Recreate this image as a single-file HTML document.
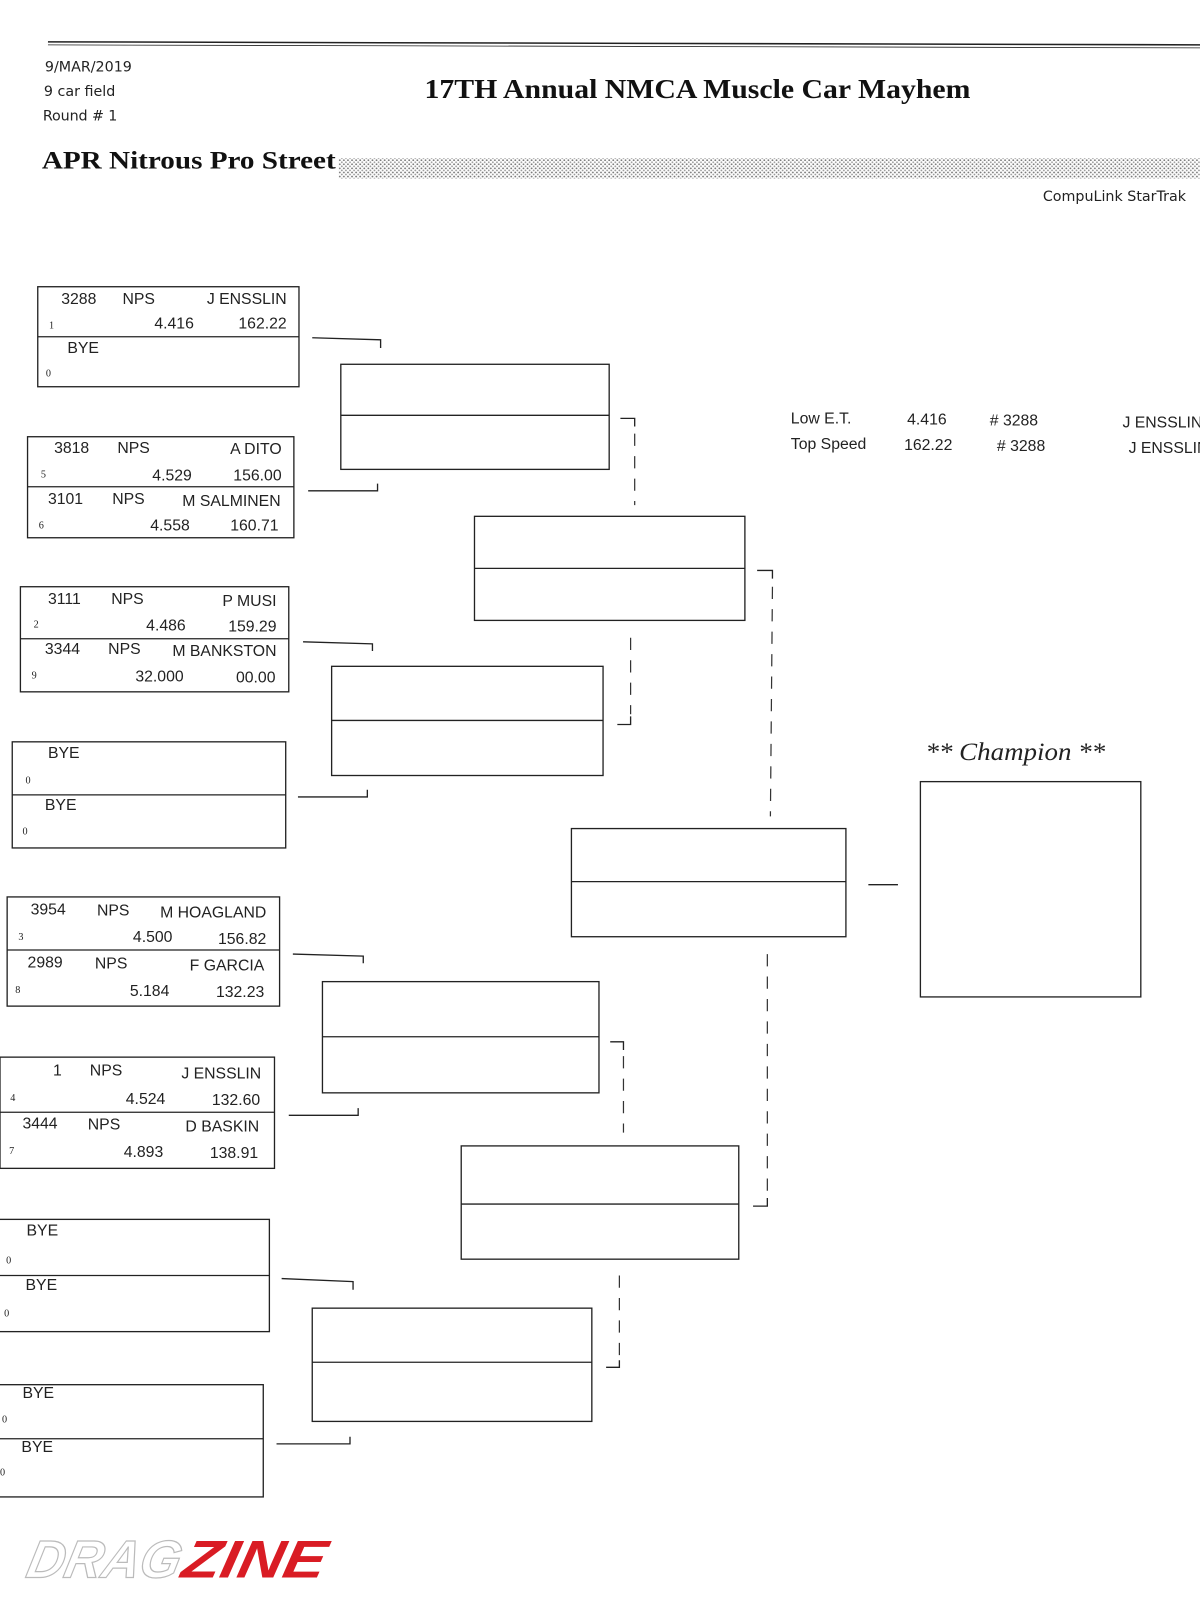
<!DOCTYPE html>
<html><head><meta charset="utf-8"><style>
html,body{margin:0;padding:0;background:#fff;}
svg{display:block;}
.m{font-family:"Liberation Sans",sans-serif;font-size:15.5px;fill:#222;}
.s{font-family:"Liberation Serif",serif;font-size:10px;fill:#222;}
.h{font-family:"DejaVu Sans",sans-serif;font-size:14px;fill:#222;}
</style></head><body>
<svg width="1200" height="1600" viewBox="0 0 1200 1600" xmlns="http://www.w3.org/2000/svg">
<defs><pattern id="dots" width="4" height="4" patternUnits="userSpaceOnUse"><rect width="4" height="4" fill="#fff"/><circle cx="1" cy="1" r="0.9" fill="#777"/><circle cx="3" cy="3" r="0.9" fill="#999"/></pattern></defs>
<g transform="scale(1.0204)">
<g stroke="#222" fill="none" stroke-width="1.2">
<line x1="47" y1="41" x2="1200" y2="44" stroke-width="1.5"/>
<line x1="47" y1="44" x2="1200" y2="47" stroke-width="0.8"/>
</g>
<text x="44" y="70" class="h">9/MAR/2019</text>
<text x="43" y="94" class="h" textLength="70">9 car field</text>
<text x="42" y="118" class="h" textLength="73">Round # 1</text>
<text x="416" y="96" style="font-family:'Liberation Serif',serif;font-weight:bold;font-size:27px;fill:#111" textLength="535" lengthAdjust="spacingAndGlyphs">17TH Annual NMCA Muscle Car Mayhem</text>
<text x="41" y="165" style="font-family:'Liberation Serif',serif;font-weight:bold;font-size:25px;fill:#111" textLength="288" lengthAdjust="spacingAndGlyphs">APR Nitrous Pro Street</text>
<rect x="332" y="155" width="868" height="20" fill="url(#dots)"/>
<text x="1022" y="197" class="h">CompuLink StarTrak</text>

<g stroke="#222" fill="none" stroke-width="1.3">
<rect x="37" y="281" width="256" height="98"/><line x1="37" y1="330" x2="293" y2="330"/>
<rect x="27" y="428" width="261" height="99"/><line x1="27" y1="477" x2="288" y2="477"/>
<rect x="20" y="575" width="263" height="103"/><line x1="20" y1="626" x2="283" y2="626"/>
<rect x="12" y="727" width="268" height="104"/><line x1="12" y1="779" x2="280" y2="779"/>
<rect x="7" y="879" width="267" height="107"/><line x1="7" y1="931" x2="274" y2="931"/>
<rect x="0" y="1036" width="269" height="109"/><line x1="0" y1="1090" x2="269" y2="1090"/>
<rect x="-2" y="1195" width="266" height="110"/><line x1="-2" y1="1250" x2="264" y2="1250"/>
<rect x="-4" y="1357" width="262" height="110"/><line x1="-4" y1="1410" x2="258" y2="1410"/>
<rect x="334" y="357" width="263" height="103"/><line x1="334" y1="407" x2="597" y2="407"/>
<rect x="325" y="653" width="266" height="107"/><line x1="325" y1="706" x2="591" y2="706"/>
<rect x="316" y="962" width="271" height="109"/><line x1="316" y1="1016" x2="587" y2="1016"/>
<rect x="306" y="1282" width="274" height="111"/><line x1="306" y1="1335" x2="580" y2="1335"/>
<rect x="465" y="506" width="265" height="102"/><line x1="465" y1="557" x2="730" y2="557"/>
<rect x="452" y="1123" width="272" height="111"/><line x1="452" y1="1180" x2="724" y2="1180"/>
<rect x="560" y="812" width="269" height="106"/><line x1="560" y1="864" x2="829" y2="864"/>
<rect x="902" y="766" width="216" height="211"/>
<polyline points="306,331 373,333 373,341"/>
<polyline points="302,481 370,481 370,474"/>
<polyline points="297,629 365,631 365,638"/>
<polyline points="292,781 360,781 360,774"/>
<polyline points="287,935 356,937 356,944"/>
<polyline points="283,1093 351,1093 351,1086"/>
<polyline points="276,1253 346,1256 346,1264"/>
<polyline points="271,1415 343,1415 343,1408"/>
<polyline points="608,410 622,410 622,418"/>
<polyline points="605,710 618,710 618,702"/>
<polyline points="598,1021 611,1021 611,1029"/>
<polyline points="594,1340 607,1340 607,1333"/>
<polyline points="742,559 757,559 757,567"/>
<polyline points="738,1182 752,1182 752,1174"/>
<line x1="851" y1="867" x2="880" y2="867"/>
</g>
<g stroke="#333" fill="none" stroke-width="1.2" stroke-dasharray="12,10">
<line x1="622" y1="425" x2="622" y2="495"/>
<line x1="618" y1="625" x2="618" y2="700"/>
<line x1="611" y1="1035" x2="611" y2="1110"/>
<line x1="607" y1="1250" x2="607" y2="1330"/>
<line x1="757" y1="575" x2="755" y2="800"/>
<line x1="752" y1="935" x2="752" y2="1170"/>
</g>

<g class="m">
<text x="60" y="298">3288</text><text x="120" y="298">NPS</text><text x="281" y="298" text-anchor="end">J ENSSLIN</text>
<text x="190" y="322" text-anchor="end">4.416</text><text x="281" y="322" text-anchor="end">162.22</text>
<text x="66" y="346">BYE</text>
<text x="53" y="444">3818</text><text x="115" y="444">NPS</text><text x="276" y="445" text-anchor="end">A DITO</text>
<text x="188" y="471" text-anchor="end">4.529</text><text x="276" y="471" text-anchor="end">156.00</text>
<text x="47" y="494">3101</text><text x="110" y="494">NPS</text><text x="275" y="496" text-anchor="end">M SALMINEN</text>
<text x="186" y="520" text-anchor="end">4.558</text><text x="273" y="520" text-anchor="end">160.71</text>
<text x="47" y="592">3111</text><text x="109" y="592">NPS</text><text x="271" y="594" text-anchor="end">P MUSI</text>
<text x="182" y="618" text-anchor="end">4.486</text><text x="271" y="619" text-anchor="end">159.29</text>
<text x="44" y="641">3344</text><text x="106" y="641">NPS</text><text x="271" y="643" text-anchor="end">M BANKSTON</text>
<text x="180" y="668" text-anchor="end">32.000</text><text x="270" y="669" text-anchor="end">00.00</text>
<text x="47" y="743">BYE</text>
<text x="44" y="794">BYE</text>
<text x="30" y="896">3954</text><text x="95" y="897">NPS</text><text x="261" y="899" text-anchor="end">M HOAGLAND</text>
<text x="169" y="923" text-anchor="end">4.500</text><text x="261" y="925" text-anchor="end">156.82</text>
<text x="27" y="948">2989</text><text x="93" y="949">NPS</text><text x="259" y="951" text-anchor="end">F GARCIA</text>
<text x="166" y="976" text-anchor="end">5.184</text><text x="259" y="977" text-anchor="end">132.23</text>
<text x="52" y="1054">1</text><text x="88" y="1054">NPS</text><text x="256" y="1057" text-anchor="end">J ENSSLIN</text>
<text x="162" y="1082" text-anchor="end">4.524</text><text x="255" y="1083" text-anchor="end">132.60</text>
<text x="22" y="1106">3444</text><text x="86" y="1107">NPS</text><text x="254" y="1109" text-anchor="end">D BASKIN</text>
<text x="160" y="1134" text-anchor="end">4.893</text><text x="253" y="1135" text-anchor="end">138.91</text>
<text x="26" y="1211">BYE</text>
<text x="25" y="1264">BYE</text>
<text x="22" y="1370">BYE</text>
<text x="21" y="1423">BYE</text>
<text x="775" y="415">Low   E.T.</text><text x="889" y="416">4.416</text><text x="970" y="417"># 3288</text><text x="1100" y="419">J ENSSLIN</text>
<text x="775" y="440">Top Speed</text><text x="886" y="441">162.22</text><text x="977" y="442"># 3288</text><text x="1106" y="444">J ENSSLIN</text>
</g>
<g class="s">
<text x="48" y="322">1</text><text x="45" y="369">0</text>
<text x="40" y="468">5</text><text x="38" y="518">6</text>
<text x="33" y="615">2</text><text x="31" y="665">9</text>
<text x="25" y="768">0</text><text x="22" y="818">0</text>
<text x="18" y="921">3</text><text x="15" y="973">8</text>
<text x="10" y="1079">4</text><text x="9" y="1131">7</text>
<text x="6" y="1238">0</text><text x="4" y="1290">0</text>
<text x="2" y="1394">0</text><text x="0" y="1446">0</text>
</g>
<text x="907" y="745" style="font-family:'Liberation Serif',serif;font-style:italic;font-size:25px;fill:#222" textLength="176" lengthAdjust="spacingAndGlyphs">** Champion **</text>

<g style="font-family:'Liberation Sans',sans-serif;font-weight:bold;font-style:italic;font-size:52px" transform="translate(24,1546) skewX(-12)">
<text x="0" y="0" fill="#fff" stroke="#bbb" stroke-width="1.2" textLength="150" lengthAdjust="spacingAndGlyphs">DRAG</text>
<text x="152" y="0" fill="#d91c24" textLength="140" lengthAdjust="spacingAndGlyphs">ZINE</text>
</g>
</g>
</svg>
</body></html>
